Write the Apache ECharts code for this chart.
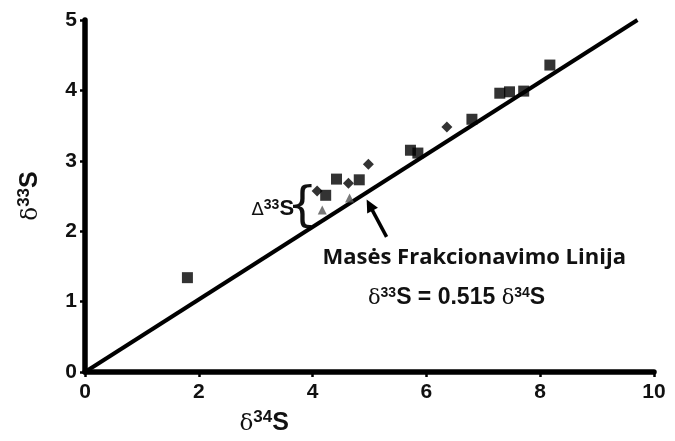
<!DOCTYPE html>
<html>
<head>
<meta charset="utf-8">
<script src="https://cdn.jsdelivr.net/npm/echarts@6/dist/echarts.min.js"></script>
<style>
  html, body { margin: 0; padding: 0; background: #fff; }
  #chart { width: 675px; height: 441px; }
</style>
</head>
<body>
<div id="chart"></div>
<script>
// tick labels
const xTicks = [0, 2, 4, 6, 8, 10];
const yTicks = [0, 1, 2, 3, 4, 5];

// measured samples (d34S, d33S)
const squares = [
  [1.8, 1.34], [4.23, 2.51], [4.42, 2.74], [4.82, 2.73], [5.72, 3.15], [5.85, 3.11],
  [6.8, 3.59], [7.29, 3.96], [7.46, 3.98], [7.71, 3.99], [8.17, 4.36]
];
const diamonds = [[4.08, 2.57], [4.63, 2.68], [4.98, 2.95], [6.36, 3.48]];
const triangles = [[4.17, 2.3], [4.65, 2.47]];

// mass fractionation line d33S = 0.515 d34S
const slope = 0.515;
const lineEnds = [0, 5 / slope];

const narrow = "'Liberation Sans Narrow', 'Liberation Sans', Arial, sans-serif";
const sans = "'Liberation Sans', Arial, sans-serif";
const serif = "'DejaVu Serif', serif";

const chart = echarts.init(document.getElementById('chart'));

const option = {
  animation: false,
  grid: { left: 85, right: 21, top: 20, bottom: 69 },
  xAxis: {
    type: 'value', min: 0, max: 10, interval: 2,
    axisLine: { show: true, lineStyle: { color: '#000', width: 5.5 } },
    axisTick: { show: true, length: 5, lineStyle: { color: '#000', width: 2.5 } },
    axisLabel: { color: '#111', fontSize: 21, fontWeight: 'bold', fontFamily: sans, margin: 10,
      formatter: v => xTicks.includes(v) ? String(v) : '' },
    splitLine: { show: false }
  },
  yAxis: {
    type: 'value', min: 0, max: 5, interval: 1,
    axisLine: { show: true, lineStyle: { color: '#000', width: 5.5 } },
    axisTick: { show: true, length: 5, lineStyle: { color: '#000', width: 2.5 } },
    axisLabel: { color: '#111', fontSize: 21, fontWeight: 'bold', fontFamily: sans, margin: 8,
      formatter: v => yTicks.includes(v) ? String(v) : '' },
    splitLine: { show: false },
    name: '{d|δ}{sup|33}{s|S}',
    nameLocation: 'middle', nameGap: 42, nameRotate: 90,
    nameTextStyle: {
      rich: {
        d: { fontFamily: serif, fontSize: 23, color: '#111', verticalAlign: 'bottom' },
        sup: { fontFamily: narrow, fontWeight: 'bold', fontSize: 17, color: '#111', verticalAlign: 'top', padding: [0, 0, 10, 0] },
        s: { fontFamily: sans, fontWeight: 'bold', fontSize: 25, color: '#111', verticalAlign: 'bottom' }
      }
    }
  },
  series: [
    {
      type: 'line', data: lineEnds.map(x => [x, slope * x]),
      symbol: 'none', lineStyle: { color: '#000', width: 4 }, z: 2
    },
    {
      type: 'scatter', data: triangles, symbol: 'triangle', symbolSize: 9,
      itemStyle: { color: '#555' }, z: 3
    },
    {
      type: 'scatter', data: diamonds, symbol: 'diamond', symbolSize: 11,
      itemStyle: { color: '#000' }, z: 4
    },
    {
      type: 'scatter', data: squares, symbol: 'rect', symbolSize: 11,
      itemStyle: { color: '#000' }, z: 4
    }
  ]
};

chart.setOption(option);

// annotations placed in data coordinates
const px = p => chart.convertToPixel({ gridIndex: 0 }, p);
const arrowTip = px([4.95, 2.45]);
const arrowTail = px([5.3, 1.92]);
const ang = Math.atan2(arrowTip[1] - arrowTail[1], arrowTip[0] - arrowTail[0]);
const head = 14, spread = 0.45;
const braceAt = px([3.82, 2.32]);
const labelAt = px([3.3, 2.32]);
const title1 = px([6.84, 1.63]);
const title2 = px([6.53, 1.06]);
const xName = px([3.15, 0]);

chart.setOption({
  graphic: [
    { type: 'line', shape: { x1: arrowTail[0], y1: arrowTail[1],
        x2: arrowTip[0] - Math.cos(ang) * 6, y2: arrowTip[1] - Math.sin(ang) * 6 },
      style: { stroke: '#000', lineWidth: 3.5 } },
    { type: 'polygon', shape: { points: [
        arrowTip,
        [arrowTip[0] - head * Math.cos(ang - spread), arrowTip[1] - head * Math.sin(ang - spread)],
        [arrowTip[0] - head * Math.cos(ang + spread), arrowTip[1] - head * Math.sin(ang + spread)]
      ] }, style: { fill: '#000' } },
    { type: 'text', x: braceAt[0], y: braceAt[1],
      style: { text: '{', font: "48px 'DejaVu Sans'", fill: '#111', align: 'center', verticalAlign: 'middle' } },
    { type: 'text', x: labelAt[0], y: labelAt[1],
      style: { text: '{d|Δ}{sup|33}{s|S}', align: 'center', verticalAlign: 'middle',
        rich: {
          d: { fontFamily: "'DejaVu Sans', sans-serif", fontSize: 18, fill: '#111', verticalAlign: 'bottom' },
          sup: { fontFamily: narrow, fontWeight: 'bold', fontSize: 14, fill: '#111', verticalAlign: 'top', padding: [0, 0, 8, 0] },
          s: { fontFamily: sans, fontWeight: 'bold', fontSize: 22, fill: '#111', verticalAlign: 'bottom' }
        } } },
    { type: 'text', x: title1[0], y: title1[1],
      style: { text: 'Masės Frakcionavimo Linija', font: "bold 22px 'Open Sans', sans-serif",
        fill: '#111', align: 'center', verticalAlign: 'middle' } },
    { type: 'text', x: title2[0], y: title2[1],
      style: { text: '{d|δ}{sup|33}{s|S = 0.515 }{d|δ}{sup|34}{s|S}', align: 'center', verticalAlign: 'middle',
        rich: {
          d: { fontFamily: serif, fontSize: 21, fill: '#111', verticalAlign: 'bottom' },
          sup: { fontFamily: narrow, fontWeight: 'bold', fontSize: 14, fill: '#111', verticalAlign: 'top', padding: [0, 0, 8, 0] },
          s: { fontFamily: narrow, fontWeight: 'bold', fontSize: 23, fill: '#111', verticalAlign: 'bottom' }
        } } },
    { type: 'text', x: xName[0], y: 422,
      style: { text: '{d|δ}{sup|34}{s|S}', align: 'center', verticalAlign: 'middle',
        rich: {
          d: { fontFamily: serif, fontSize: 23, fill: '#111', verticalAlign: 'bottom' },
          sup: { fontFamily: narrow, fontWeight: 'bold', fontSize: 17, fill: '#111', verticalAlign: 'top', padding: [0, 0, 10, 0] },
          s: { fontFamily: sans, fontWeight: 'bold', fontSize: 25, fill: '#111', verticalAlign: 'bottom' }
        } } }
  ]
});
</script>
</body>
</html>
